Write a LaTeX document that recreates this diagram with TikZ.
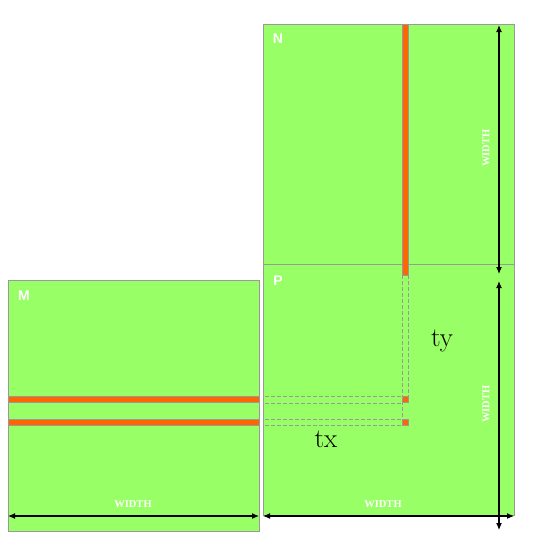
\documentclass[tikz,border=0pt]{standalone}
\usepackage{fontspec}
\usetikzlibrary{arrows.meta}
\newfontfamily\arialfont{Liberation Sans}
\newfontfamily\timesfont{Liberation Serif}
\definecolor{mgreen}{HTML}{99FF66}
\definecolor{morange}{HTML}{FF6600}
\definecolor{mgray}{HTML}{999999}
\begin{document}
\begin{tikzpicture}[x=1pt,y=-1pt,
  mat/.style={fill=mgreen,draw=mgray,line width=0.8pt},
  strip/.style={fill=morange,draw=mgray,line width=0.6pt},
  guide/.style={draw=mgray,dashed,dash pattern=on 4pt off 2pt,line width=0.6pt},
  dim/.style={{Latex[length=7pt,width=6pt]}-{Latex[length=7pt,width=6pt]},line width=1.1pt},
  mlabel/.style={text=white,font=\arialfont\bfseries\fontsize{14}{14}\selectfont},
  wlabel/.style={text=white,font=\timesfont\bfseries\fontsize{10.5}{11}\selectfont},
  tlabel/.style={font=\rmfamily\fontsize{27}{27}\selectfont}]
\useasboundingbox (0,0) rectangle (534,549);
% matrices
\draw[mat] (263,24) rectangle (514,264);
\draw[mat] (263,264) rectangle (514,515);
\draw[mat] (8,280) rectangle (259,531);
% M rows
\draw[strip] (8,396) rectangle (259,402);
\draw[strip] (8,419) rectangle (259,425);
% N column
\draw[strip] (402.5,24) rectangle (408,275);
% guides
\draw[guide] (402.5,275) -- (402.5,419);
\draw[guide] (408,275) -- (408,396);
\draw[guide] (265,396) -- (402.5,396);
\draw[guide] (265,403) -- (402.5,403);
\draw[guide] (265,419) -- (402.5,419);
\draw[guide] (265,425) -- (402.5,425);
% P elements
\draw[strip] (402.5,396) rectangle (408,402);
\draw[strip] (402.5,419) rectangle (408,425);
% labels
\node[mlabel] (lN) at (278,39) {N};
\node[mlabel] (lP) at (278,281) {P};
\node[mlabel] (lM) at (24,296) {M};
\node[tlabel] (ty) at (442,341) {ty};
\node[tlabel] (tx) at (326,439) {tx};
% dimension arrows
\coordinate (a1) at (499,25);
\coordinate (a2) at (499,274);
\coordinate (b1) at (499,281);
\coordinate (b2) at (499,530);
\coordinate (c1) at (8,516);
\coordinate (c2) at (259,516);
\coordinate (d1) at (263,516);
\coordinate (d2) at (514,516);
\draw[dim] (a1) -- (a2);
\draw[dim] (b1) -- (b2);
\draw[dim] (c1) -- (c2);
\draw[dim] (d1) -- (d2);
\node[wlabel] (w1) at (133,504) {WIDTH};
\node[wlabel] (w2) at (383,504) {WIDTH};
\node[wlabel,rotate=90] (w3) at (486,148) {WIDTH};
\node[wlabel,rotate=90] (w4) at (486,404) {WIDTH};
\end{tikzpicture}
\end{document}
